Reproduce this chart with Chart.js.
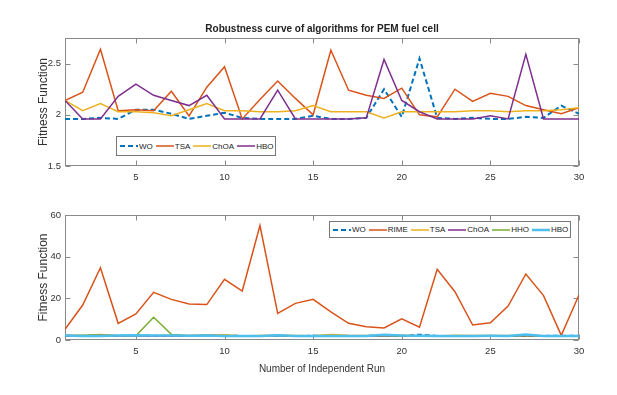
<!DOCTYPE html>
<html>
<head>
<meta charset="utf-8">
<script src="https://cdn.jsdelivr.net/npm/chart.js@4/dist/chart.umd.min.js"></script>
<style>
html,body{margin:0;padding:0;background:#fff;}
#wrap{position:relative;width:617px;height:395px;overflow:hidden;font-family:"Liberation Sans",Arial,sans-serif;background:#fff;}
.cv{position:absolute;left:0;top:0;width:617px;height:395px;}
.legend{position:absolute;display:flex;align-items:center;border:1px solid #777;background:#fff;font-size:8px;color:#222;box-sizing:border-box;padding-left:3px;padding-right:2px;white-space:nowrap;}
.legend .it{display:flex;align-items:center;margin-right:3px;}
.legend .it:last-child{margin-right:0;}
.legend svg{display:block;margin-right:1px;}
</style>
</head>
<body>
<div id="wrap">
  <div class="cv"><canvas id="c1" width="617" height="395"></canvas></div>
  <div class="cv"><canvas id="c2" width="617" height="395"></canvas></div>
  <div class="legend" id="lg1" style="left:116px;top:136px;height:20px;"></div>
  <div class="legend" id="lg2" style="left:329px;top:221px;height:17px;"></div>
</div>
<script>
// ---------- data ----------
const runs = [1,2,3,4,5,6,7,8,9,10,11,12,13,14,15,16,17,18,19,20,21,22,23,24,25,26,27,28,29,30];
const xTicks = [5,10,15,20,25,30];
const yTicksTop = [1.5,2,2.5];
const yTicksBottom = [0,20,40,60];

const woVals   = [1.96,1.96,1.97,1.96,2.05,2.05,2.01,1.96,1.99,2.02,1.97,1.96,1.96,1.96,1.99,1.96,1.96,1.97,2.25,1.98,2.55,1.97,1.96,1.97,1.96,1.96,1.98,1.97,2.09,2.01];
const tsaVals  = [2.14,2.22,2.64,2.04,2.05,2.04,2.23,1.99,2.27,2.47,1.96,2.15,2.33,2.16,2.00,2.63,2.24,2.19,2.16,2.26,2.00,1.98,2.25,2.13,2.21,2.18,2.09,2.05,2.01,2.07];
const choaVals = [2.14,2.04,2.11,2.03,2.03,2.02,1.99,2.05,2.11,2.04,2.04,2.03,2.03,2.04,2.09,2.03,2.03,2.03,1.97,2.03,2.03,2.03,2.03,2.04,2.04,2.03,2.04,2.04,2.05,2.07];
const hboVals  = [2.14,1.96,1.96,2.18,2.30,2.19,2.14,2.09,2.19,1.96,1.96,1.96,2.24,1.96,1.96,1.96,1.96,1.97,2.54,2.14,2.03,1.96,1.96,1.96,1.99,1.96,2.59,1.96,1.96,1.96];
const rimeVals = [5.1,16.8,34.7,8.0,12.5,22.9,19.5,17.3,17.0,29.1,23.5,54.9,12.8,17.6,19.5,13.5,8.0,6.4,5.8,10.2,6.1,33.9,23.2,7.2,8.3,16.3,31.7,21.3,2.2,21.6];
const hhoVals  = [2.2,2.3,2.4,2.2,2.0,10.9,2.7,2.2,2.3,2.2,2.1,2.0,2.1,2.0,2.0,2.1,2.0,2.0,2.1,2.0,2.0,2.0,2.0,2.0,2.0,2.0,2.2,2.0,2.0,2.0];

const topNames = ['WO','TSA','ChOA','HBO'];
const topSeries = [woVals, tsaVals, choaVals, hboVals];
const bottomNames = ['WO','RIME','TSA','ChOA','HHO','HBO'];
const bottomSeries = [woVals, rimeVals, tsaVals, choaVals, hhoVals, hboVals];

const titleText = 'Robustness curve of algorithms for PEM fuel cell';
const yTitle = 'Fitness Function';
const xTitle = 'Number of Independent Run';

// ---------- styles ----------
const FONT = '"Liberation Sans", Arial, Helvetica, sans-serif';
const C = {blue:'#0072BD', orange:'#D95319', yellow:'#EDB120', purple:'#7E2F8E', green:'#77AC30', cyan:'#4DBEEE'};
const topStyles = [
  {color:C.blue, width:2, dash:[5,3]},
  {color:C.orange, width:1.5},
  {color:C.yellow, width:1.5},
  {color:C.purple, width:1.5}
];
const bottomStyles = [
  {color:C.blue, width:2, dash:[5,3]},
  {color:C.orange, width:1.5},
  {color:C.yellow, width:1.5},
  {color:C.purple, width:1.5},
  {color:C.green, width:1.5},
  {color:C.cyan, width:2.5}
];

Chart.defaults.font.family = FONT;
Chart.defaults.color = '#333';

const boxPlugin = {
  id: 'matlabBox',
  beforeDatasetsDraw(chart) {
    const {ctx, chartArea: a, scales: {x, y}} = chart;
    ctx.save();
    ctx.strokeStyle = '#8a8a8a';
    ctx.lineWidth = 1;
    const L = Math.round(a.left) + 0.5, R = Math.round(a.right) - 0.5;
    const T = Math.round(a.top) + 0.5, B = Math.round(a.bottom) - 0.5;
    ctx.strokeRect(L, T, R - L, B - T);
    const tl = 5;
    ctx.beginPath();
    x.ticks.forEach(t => {
      const px = Math.round(x.getPixelForValue(t.value)) + 0.5;
      ctx.moveTo(px, B); ctx.lineTo(px, B - tl);
      ctx.moveTo(px, T); ctx.lineTo(px, T + tl);
    });
    y.ticks.forEach(t => {
      const py = Math.round(y.getPixelForValue(t.value)) + 0.5;
      ctx.moveTo(L, py); ctx.lineTo(L + tl, py);
      ctx.moveTo(R, py); ctx.lineTo(R - tl, py);
    });
    ctx.stroke();
    ctx.restore();
  }
};

function makeDatasets(names, series, styles) {
  const n = names.length;
  return names.map((name, i) => ({
    label: name,
    data: runs.map((r, k) => ({x: r, y: series[i][k]})),
    borderColor: styles[i].color,
    backgroundColor: styles[i].color,
    borderWidth: styles[i].width,
    borderDash: styles[i].dash || [],
    pointRadius: 0,
    tension: 0,
    fill: false,
    order: n - i
  }));
}

function xScale(height, withTitle) {
  return {
    type: 'linear', min: 1, max: 30,
    afterBuildTicks: s => { s.ticks = xTicks.map(v => ({value: v})); },
    afterFit: s => { s.height = height; },
    grid: {display: false, drawTicks: false},
    border: {display: false},
    ticks: {font: {size: 9.5}, color: '#333', padding: 6, maxRotation: 0, autoSkip: false, callback: v => String(v)},
    title: withTitle ? {display: true, text: xTitle, font: {size: 10}, color: '#333', padding: {top: 0, bottom: 10}} : {display: false}
  };
}
function yScale(min, max, ticks) {
  return {
    min: min, max: max,
    afterBuildTicks: s => { s.ticks = ticks.map(v => ({value: v})); },
    afterFit: s => { s.width = 65; },
    grid: {display: false, drawTicks: false},
    border: {display: false},
    ticks: {font: {size: 9.5}, color: '#333', padding: 4, callback: v => String(v)},
    title: {display: true, text: yTitle, font: {size: 12}, color: '#333', padding: {top: 36, bottom: 0}}
  };
}

new Chart(document.getElementById('c1'), {
  type: 'line',
  data: {datasets: makeDatasets(topNames, topSeries, topStyles)},
  options: {
    responsive: false, animation: false, devicePixelRatio: 1,
    layout: {padding: {top: 23, left: 0, right: 38, bottom: 209}},
    plugins: {
      legend: {display: false},
      tooltip: {enabled: false},
      title: {display: true, text: titleText, fullSize: false, color: '#222',
              font: {size: 10, weight: 'bold'}, padding: {top: 0, bottom: 3}}
    },
    scales: {x: xScale(20, false), y: yScale(1.5, 2.75, yTicksTop)}
  },
  plugins: [boxPlugin]
});

new Chart(document.getElementById('c2'), {
  type: 'line',
  data: {datasets: makeDatasets(bottomNames, bottomSeries, bottomStyles)},
  options: {
    responsive: false, animation: false, devicePixelRatio: 1,
    layout: {padding: {top: 215, left: 0, right: 38, bottom: 10}},
    plugins: {legend: {display: false}, tooltip: {enabled: false}},
    scales: {x: xScale(45, true), y: yScale(0, 60, yTicksBottom)}
  },
  plugins: [boxPlugin]
});

function buildLegend(el, names, styles) {
  names.forEach((n, i) => {
    const s = styles[i];
    const it = document.createElement('span');
    it.className = 'it';
    const dash = s.dash ? ` stroke-dasharray="${s.dash.join(',')}"` : '';
    it.innerHTML = `<svg width="18" height="8"><line x1="0" y1="4" x2="18" y2="4" stroke="${s.color}" stroke-width="${s.width}"${dash}/></svg><span>${n}</span>`;
    el.appendChild(it);
  });
}
buildLegend(document.getElementById('lg1'), topNames, topStyles);
buildLegend(document.getElementById('lg2'), bottomNames, bottomStyles);
</script>
</body>
</html>
